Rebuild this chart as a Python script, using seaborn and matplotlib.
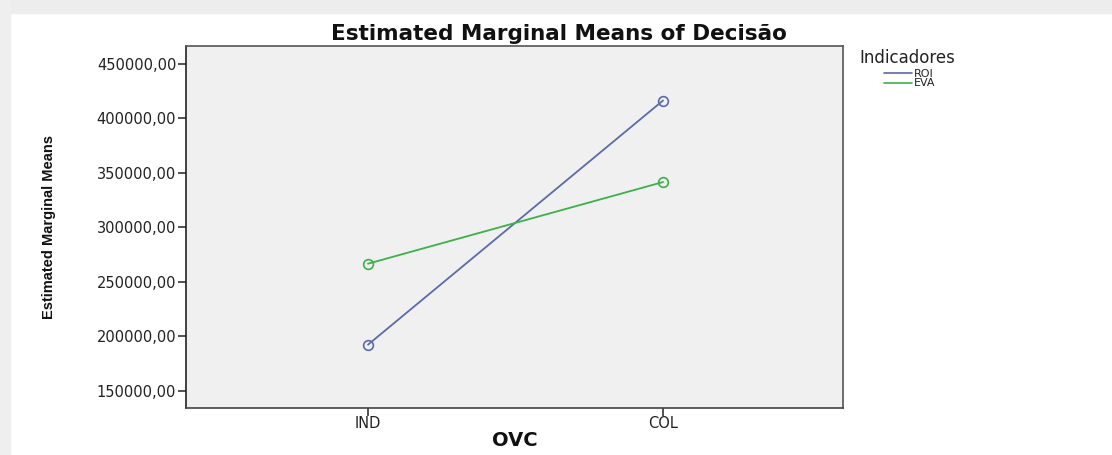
import pandas as pd
import matplotlib
matplotlib.use('Agg')
import matplotlib.pyplot as plt
import seaborn as sns
from matplotlib.lines import Line2D
from matplotlib.ticker import FuncFormatter
from matplotlib import font_manager

# Values
ovc_levels = ['IND', 'COL']
roi_means = [192500, 416500]
eva_means = [266800, 341700]
series_names = ['ROI', 'EVA']
series_colors = ['#5b6aa8', '#3db04a']

data = pd.DataFrame({
    'OVC': ovc_levels * 2,
    'mean': roi_means + eva_means,
    'Indicadores': [series_names[0]] * 2 + [series_names[1]] * 2,
})

# condensed font for the y label if we have one
names = {f.name for f in font_manager.fontManager.ttflist}
if 'Liberation Sans Narrow' in names:
    ylab_font, ylab_size = 'Liberation Sans Narrow', 12.5
else:
    ylab_font, ylab_size = 'Liberation Sans', 10.5

sns.set_style('white')
plt.rcParams['font.family'] = ['Liberation Sans', 'DejaVu Sans']

fig = plt.figure(figsize=(11.12, 4.55), dpi=100)
# light gray frame of the screenshot
fig.patches.append(plt.Rectangle((0, 1 - 13 / 455), 1, 13 / 455, transform=fig.transFigure,
                                 color='#ededed', zorder=0))
fig.patches.append(plt.Rectangle((0, 0), 10 / 1112, 1, transform=fig.transFigure,
                                 color='#efefef', zorder=0))

ax = fig.add_axes([186 / 1112, 1 - 408 / 455, 657 / 1112, 362 / 455])
ax.set_facecolor('#f0f0f0')

sns.lineplot(data=data, x='OVC', y='mean', hue='Indicadores', palette=series_colors,
             hue_order=series_names, sort=False, marker='o', markerfacecolor='none',
             markeredgewidth=1.2, markersize=7, linewidth=1.3, legend=False, ax=ax)
for ln, c in zip(ax.lines, series_colors):
    ln.set_markeredgecolor(c)

ax.set_xlim(-0.617, 1.61)
ax.set_ylim(134400, 466500)
ax.set_yticks([150000, 200000, 250000, 300000, 350000, 400000, 450000])
ax.yaxis.set_major_formatter(FuncFormatter(lambda v, p: f'{v:.0f},00'))

for s in ax.spines.values():
    s.set_color('#555555')
    s.set_linewidth(1.2)
ax.spines['left'].set_color('#222222')
ax.spines['bottom'].set_color('#444444')

ax.tick_params(axis='both', direction='out', length=6, width=1.2, color='#333333',
               labelsize=10.5, labelcolor='#222222', left=True, bottom=True, pad=1)
ax.tick_params(axis='x', pad=0)
for t in ax.get_yticklabels() + ax.get_xticklabels():
    t.set_family('DejaVu Sans')

# SPSS puts the title a bit right of the plot centre
ax.set_title('Estimated Marginal Means of Decisão', fontsize=15.5, fontweight='bold',
             family='DejaVu Sans', pad=4, x=(559 - 186) / 657, color='#111111')
ax.set_xlabel('OVC', fontsize=14, fontweight='bold', family='DejaVu Sans', labelpad=0,
              color='#111111')
ax.set_ylabel('Estimated Marginal Means', fontsize=ylab_size, fontweight='bold',
              family=ylab_font, color='#111111')
ax.yaxis.set_label_coords((56 - 186) / 657, 0.5)

fig.text(859 / 1112, 1 - 58 / 455, 'Indicadores', fontsize=12, family='DejaVu Sans',
         color='#222222', va='center', ha='left')
handles = [Line2D([], [], color=c, linewidth=1.2) for c in series_colors]
leg = fig.legend(handles, series_names, loc='upper left',
                 bbox_to_anchor=(884 / 1112, 1 - 69 / 455), frameon=False, fontsize=8,
                 handlelength=2.5, handletextpad=0.2, labelspacing=-0.05,
                 borderaxespad=0, borderpad=0)
for t in leg.get_texts():
    t.set_family('DejaVu Sans')
    t.set_color('#222222')

fig.savefig('out.png', dpi=100)
